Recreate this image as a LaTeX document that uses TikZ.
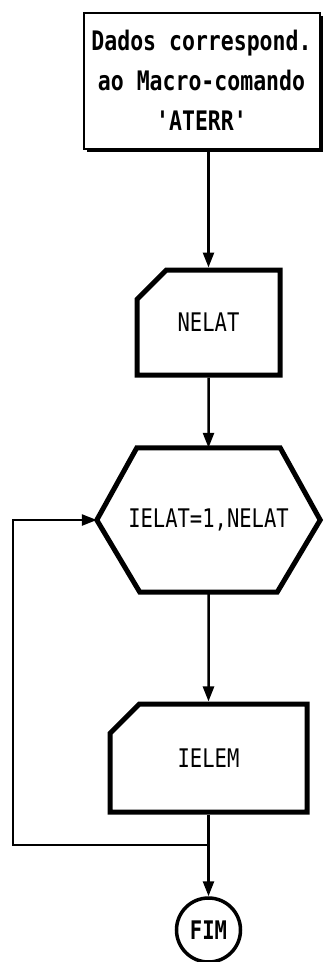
\documentclass[tikz,border=0pt]{standalone}
\usepackage{fontspec}
\setmonofont{DejaVu Sans Mono}
\usetikzlibrary{arrows.meta,shapes.misc,shadows}

% taller letters, as the printer's
\newcommand{\tall}[1]{\scalebox{1}[1.25]{#1}}

\begin{document}
\begin{tikzpicture}[x=1pt,y=-1pt,font=\ttfamily\fontsize{20.5}{40}\selectfont]
\tikzset{
% Box styles for the flow chart: data block, card, loop and end
data box/.style={rectangle,draw,line width=2pt,fill=white,minimum width=236,minimum height=136,align=center,
  drop shadow={shadow xshift=3.5pt,shadow yshift=-3.5pt,opacity=1,fill=black}},
card/.style={chamfered rectangle,chamfered rectangle corners=north west,chamfered rectangle xsep=38pt,chamfered rectangle ysep=20pt,draw,line width=5pt,inner sep=0},
loop box/.style={rectangle,minimum width=223,minimum height=144,inner sep=0},
edge line/.style={line width=5pt,line join=miter},
end node/.style={circle,draw,line width=3.5pt,minimum size=64,inner sep=0,font=\ttfamily\bfseries\fontsize{20.5}{24}\selectfont},
flow/.style={line width=2.5pt,-{Triangle[length=15pt,width=11pt]}}
}
\useasboundingbox (0,0) rectangle (327,962);

% The boxes
\node(dados)[data box,font=\ttfamily\bfseries\fontsize{21.5}{40}\selectfont] at (201.5,80.5) {\tall{Dados correspond.}\\\tall{ao Macro-comando}\\\tall{'ATERR'}};
\node(nelat)[card,minimum width=143,minimum height=105] at (208.5,322.5) {\tall{NELAT}};
\node(ielat)[loop box] at (208.5,520) {\tall{IELAT=1,NELAT}};
\node(ielem)[card,minimum width=197,minimum height=108] at (208.5,758) {\tall{IELEM}};
\node(fim)[end node] at (208.5,930) {\tall{FIM}};

% outline of the loop box
\draw[edge line] ([xshift=40pt]ielat.north west) -- ([xshift=-40pt]ielat.north east) -- (ielat.east)
  -- ([xshift=-43pt]ielat.south east) -- ([xshift=43pt]ielat.south west) -- (ielat.west) -- cycle;

% Connectors
\draw[flow] (dados.south -| nelat.north) -- (nelat.north);
\draw[flow] (nelat) -- (ielat.north);
\draw[flow] (ielat.south) -- (ielem);
\coordinate (join) at (208.5,845);
\coordinate (back) at (13,845);
\draw[line width=2.5pt] (ielem) -- (join);
\draw[flow] (join) -- (fim);
% return to the loop
\draw[flow] (join) -- (back) |- (ielat.west);
\end{tikzpicture}
\end{document}
